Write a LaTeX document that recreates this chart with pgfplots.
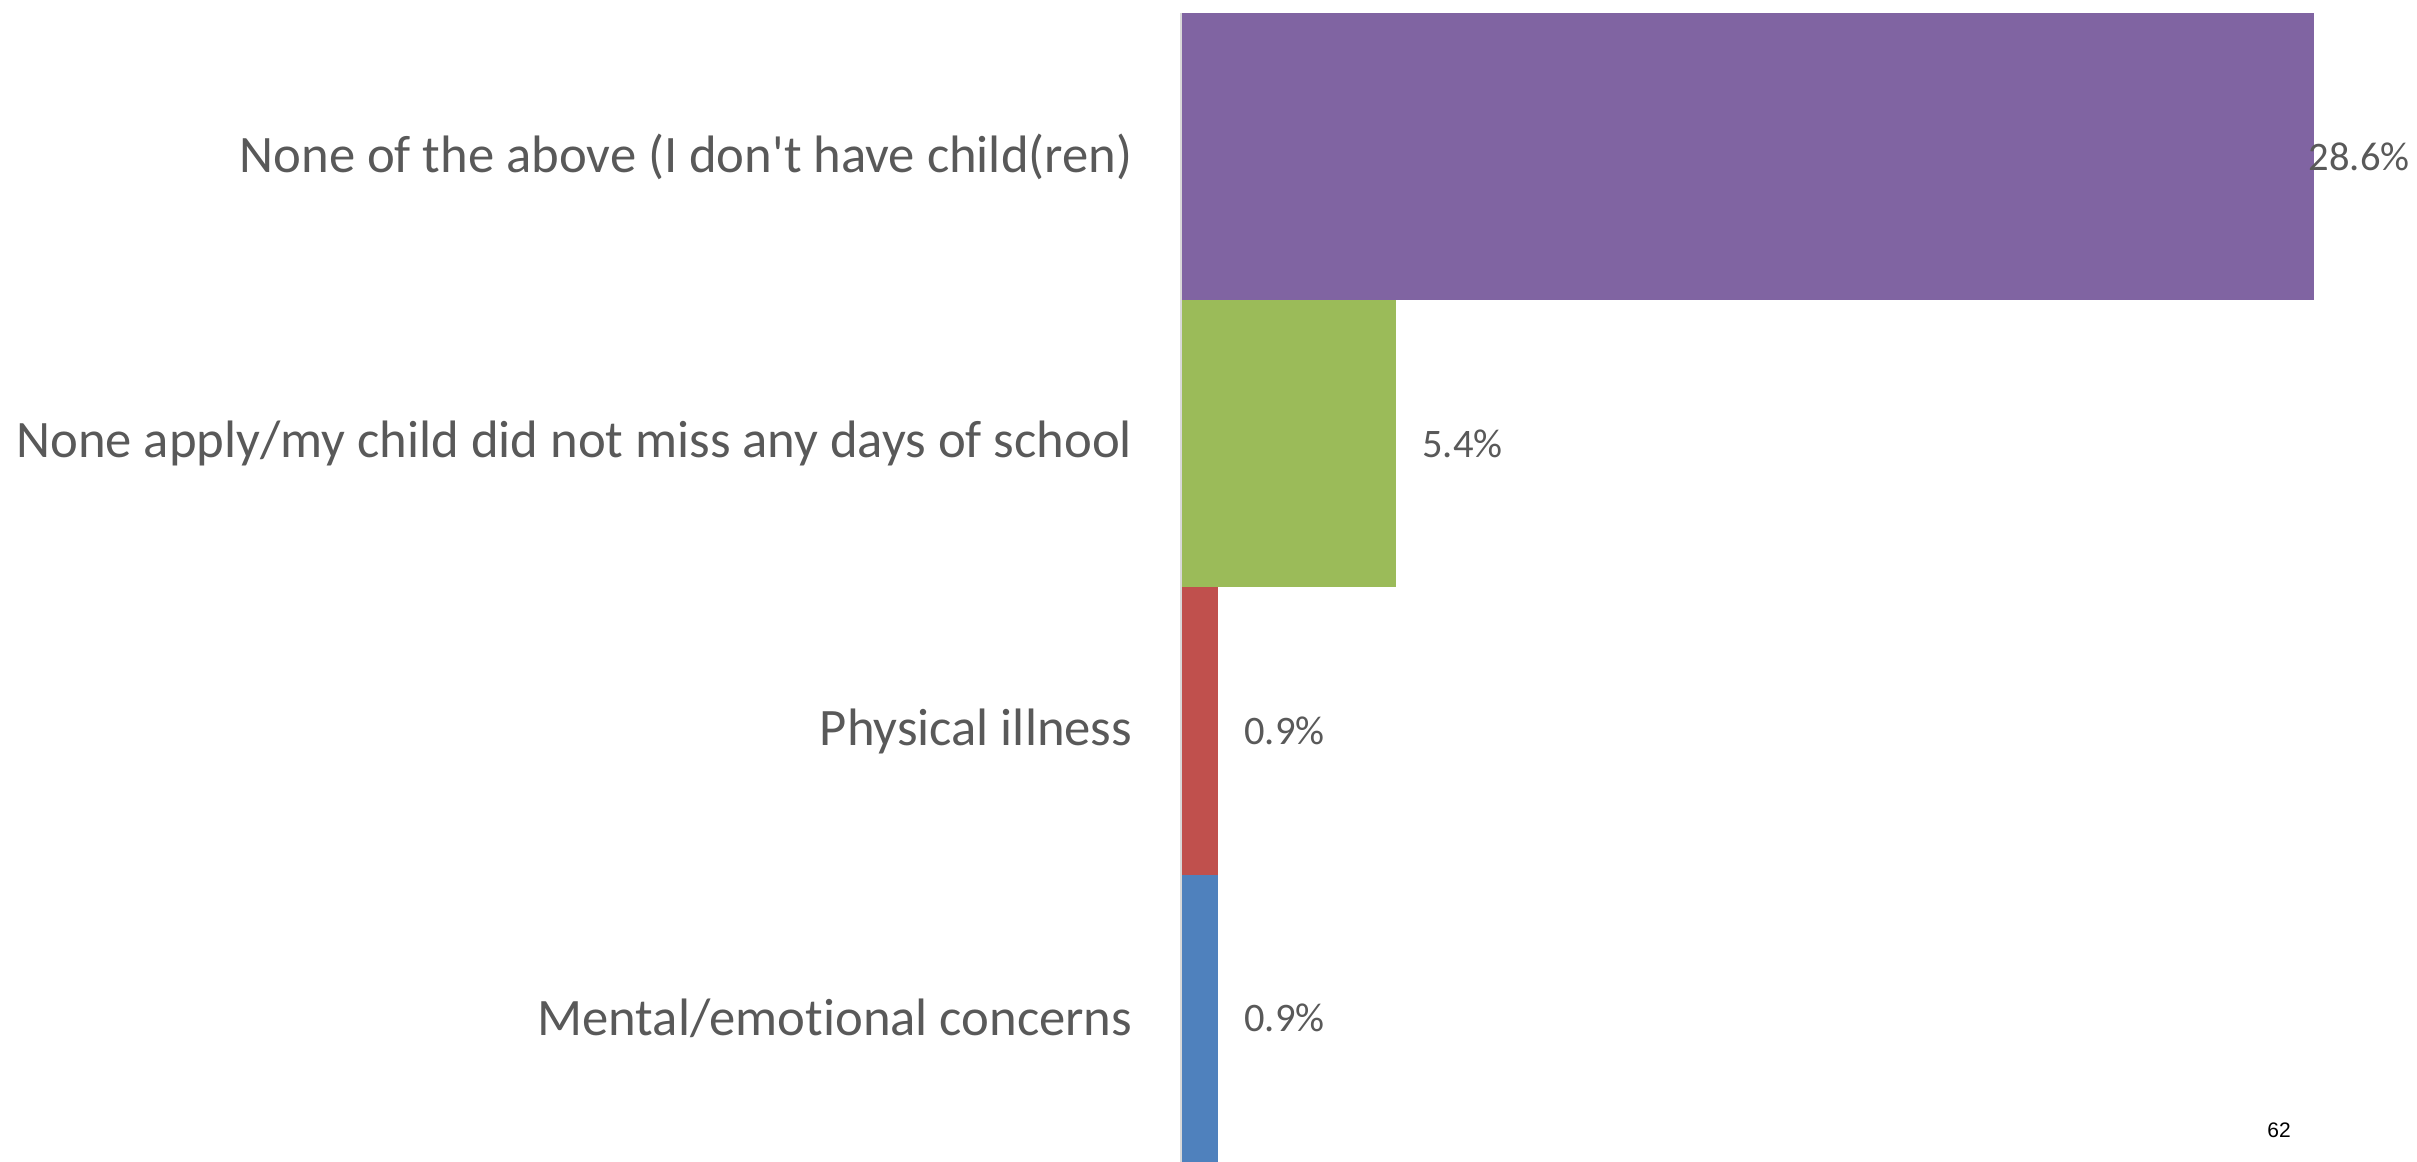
\documentclass[border=0pt]{standalone}
\usepackage{pgfplots}
\pgfplotsset{compat=1.18}
\usepackage{fontspec}
\setmainfont[Ligatures={TeXOff,NoCommon}]{Carlito}
\newfontfamily\arialfont{Liberation Sans}
\definecolor{cpurple}{HTML}{8064A2}
\definecolor{cgreen}{HTML}{9BBB59}
\definecolor{cred}{HTML}{C0504D}
\definecolor{cblue}{HTML}{4F81BD}
\definecolor{ctext}{HTML}{595959}
\definecolor{caxis}{HTML}{D9D9D9}
\begin{document}
\begin{tikzpicture}
\begin{axis}[
  scale only axis,
  width=370.5pt, height=344.7pt,
  xbar, bar width=1, bar shift=0pt,
  xmin=0, xmax=31.2,
  ymin=-0.5, ymax=3.5,
  axis x line=none,
  axis y line*=left,
  y axis line style={draw=caxis, line width=0.9pt},
  ytick={0,1,2,3},
  yticklabels={{Mental/emotional concerns},{Physical illness},{None apply/my child did not miss any days of school},{None of the above (I don't have child(ren)}},
  major tick length=0pt,
  ytick style={draw=none},
  yticklabel style={anchor=east, inner sep=0pt, xshift=-14.7pt, font=\fontsize{15.8}{18}\selectfont, text=ctext},
  point meta=x,
  nodes near coords={\pgfmathprintnumber[fixed, precision=1, fixed zerofill, assume math mode=true]{\pgfplotspointmeta}\%},
  nodes near coords style={anchor=west, inner sep=0pt, xshift=7.8pt, font=\fontsize{12.15}{14}\selectfont, text=ctext},
  clip=false,
]
\addplot[draw=none, fill=cblue] coordinates {(0.9,0)};
\addplot[draw=none, fill=cred] coordinates {(0.9,1)};
\addplot[draw=none, fill=cgreen] coordinates {(5.4,2)};
\addplot[draw=none, fill=cpurple, nodes near coords style={xshift=-9.6pt}] coordinates {(28.6,3)};
\coordinate (bl) at (rel axis cs:0,0);
\coordinate (tr) at (rel axis cs:1,1);
\coordinate (br) at (rel axis cs:1,0);
\end{axis}
\node[font=\arialfont\fontsize{6.3}{7}\selectfont, inner sep=0pt] at ([xshift=-41.4pt, yshift=9.6pt]br) {62};
\pgfresetboundingbox
\path[use as bounding box] ([xshift=-354.6pt]bl) rectangle ([yshift=3.9pt]tr);
\end{tikzpicture}
\end{document}
